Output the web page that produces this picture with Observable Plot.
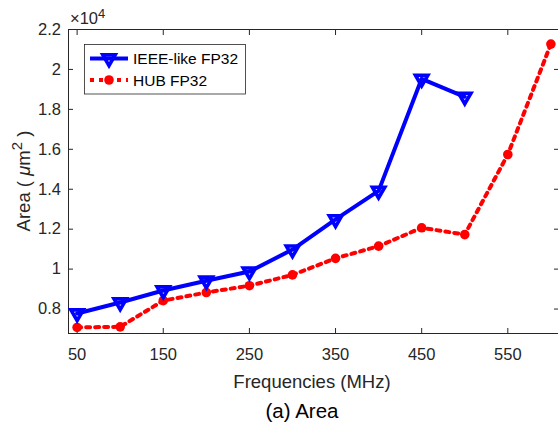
<!DOCTYPE html>
<html><head><meta charset="utf-8">
<script src="https://cdn.jsdelivr.net/npm/d3@7"></script>
<script src="https://cdn.jsdelivr.net/npm/@observablehq/plot@0.6"></script>
<style>body{margin:0;background:#fff}#chart{width:558px;height:428px}</style>
</head><body><div id="chart"></div>
<script>
const freqs = [50, 100, 150, 200, 250, 300, 350, 400, 450, 500, 550, 600];
const ieeeArea = [7780, 8330, 8930, 9420, 9880, 10980, 12490, 13920, 19530, 18630];
const hubArea = [7080, 7110, 8420, 8830, 9170, 9710, 10540, 11150, 12070, 11730, 15740, 21270];
const seriesNames = ["IEEE-like FP32", "HUB FP32"];
const xTicks = [50, 150, 250, 350, 450, 550];
const yTicks = [8000, 10000, 12000, 14000, 16000, 18000, 20000, 22000];

const ieee = ieeeArea.map((a, i) => ({f: freqs[i], a}));
const hub = hubArea.map((a, i) => ({f: freqs[i], a}));

const BLUE = "#0000ff", RED = "#ff0000", AX = "#262626";
const FONT = "'Liberation Sans', Arial, Helvetica, sans-serif";
const TRI_R = 4.6, TRI_W = 3.6, LINE_W = 4, DOT_R = 4.8, DASH = "4,5";

const plot = Plot.plot({
  width: 558, height: 428,
  marginLeft: 68, marginRight: 0, marginTop: 29, marginBottom: 95,
  style: {fontFamily: FONT, fontSize: "16.5px", color: AX, background: "white", overflow: "visible"},
  x: {domain: [40, 610], range: [68, 559], label: null},
  y: {domain: [6776, 22000], range: [333, 29], label: null},
  marks: [
    Plot.frame({anchor: "top", stroke: AX}),
    Plot.frame({anchor: "left", stroke: AX}),
    Plot.frame({anchor: "bottom", stroke: AX}),
    Plot.axisX(xTicks, {anchor: "bottom", tickSize: 0, tickPadding: 14.5, tickFormat: d => String(d), fill: AX}),
    Plot.axisX(xTicks, {anchor: "bottom", tickSize: -5, text: null, stroke: AX}),
    Plot.axisX(xTicks, {anchor: "top", tickSize: -5, text: null, stroke: AX}),
    Plot.axisY(yTicks, {anchor: "left", tickSize: 0, tickPadding: 7.5, tickFormat: d => String(d / 10000), fill: AX}),
    Plot.axisY(yTicks, {anchor: "left", tickSize: -5, text: null, stroke: AX}),
    Plot.axisY(yTicks, {anchor: "right", tickSize: -5, text: null, stroke: AX}),
    Plot.line(hub, {x: "f", y: "a", stroke: RED, strokeWidth: LINE_W, strokeDasharray: DASH}),
    Plot.dot(hub, {x: "f", y: "a", r: DOT_R, fill: RED, stroke: "none"}),
    Plot.line(ieee, {x: "f", y: "a", stroke: BLUE, strokeWidth: LINE_W}),
    Plot.dot(ieee, {x: "f", y: "a", symbol: "triangle", rotate: 180, r: TRI_R, fill: "none", stroke: BLUE, strokeWidth: TRI_W, strokeLinejoin: "miter"})
  ]
});
document.getElementById("chart").appendChild(plot);

const svg = d3.select(plot);
function txt(sel, size, fill) {
  return sel.append("text").attr("font-family", FONT).style("font-size", size + "px").attr("fill", fill);
}
// x axis label
txt(svg, 18.5, AX).attr("x", 312).attr("y", 388).attr("text-anchor", "middle").text("Frequencies (MHz)");
// caption
txt(svg, 20.5, "#000").attr("x", 302).attr("y", 418).attr("text-anchor", "middle").text("(a) Area");
// y axis label
const yl = txt(svg, 18.5, AX).attr("transform", "translate(30,181) rotate(-90)").attr("text-anchor", "middle");
yl.append("tspan").text("Area ( ");
yl.append("tspan").attr("font-style", "italic").text("μ");
yl.append("tspan").text("m");
yl.append("tspan").attr("dy", -8).style("font-size", "15px").text("2");
yl.append("tspan").attr("dy", 8).text(" )");
// exponent
const ex = txt(svg, 16.5, AX).attr("x", 70).attr("y", 24).attr("text-anchor", "start");
ex.append("tspan").text("×10");
ex.append("tspan").attr("dy", -6).style("font-size", "13px").text("4");
// legend
const lg = svg.append("g");
lg.append("rect").attr("x", 84.5).attr("y", 44.5).attr("width", 161).attr("height", 49.5)
  .attr("fill", "white").attr("stroke", AX).attr("stroke-width", 0.8);
lg.append("line").attr("x1", 90).attr("x2", 128).attr("y1", 58.5).attr("y2", 58.5).attr("stroke", BLUE).attr("stroke-width", LINE_W);
lg.append("path").attr("d", d3.symbol(d3.symbolTriangle, Math.PI * TRI_R * TRI_R)())
  .attr("transform", "translate(109,58.5) rotate(180)").attr("fill", "none").attr("stroke", BLUE).attr("stroke-width", TRI_W);
txt(lg, 15.5, "#000").attr("x", 133).attr("y", 64).attr("text-anchor", "start").text(seriesNames[0]);
lg.append("line").attr("x1", 90).attr("x2", 128).attr("y1", 80).attr("y2", 80).attr("stroke", RED).attr("stroke-width", LINE_W).attr("stroke-dasharray", DASH);
lg.append("circle").attr("cx", 109).attr("cy", 80).attr("r", DOT_R).attr("fill", RED);
txt(lg, 15.5, "#000").attr("x", 133).attr("y", 86).attr("text-anchor", "start").text(seriesNames[1]);
</script>
</body></html>
